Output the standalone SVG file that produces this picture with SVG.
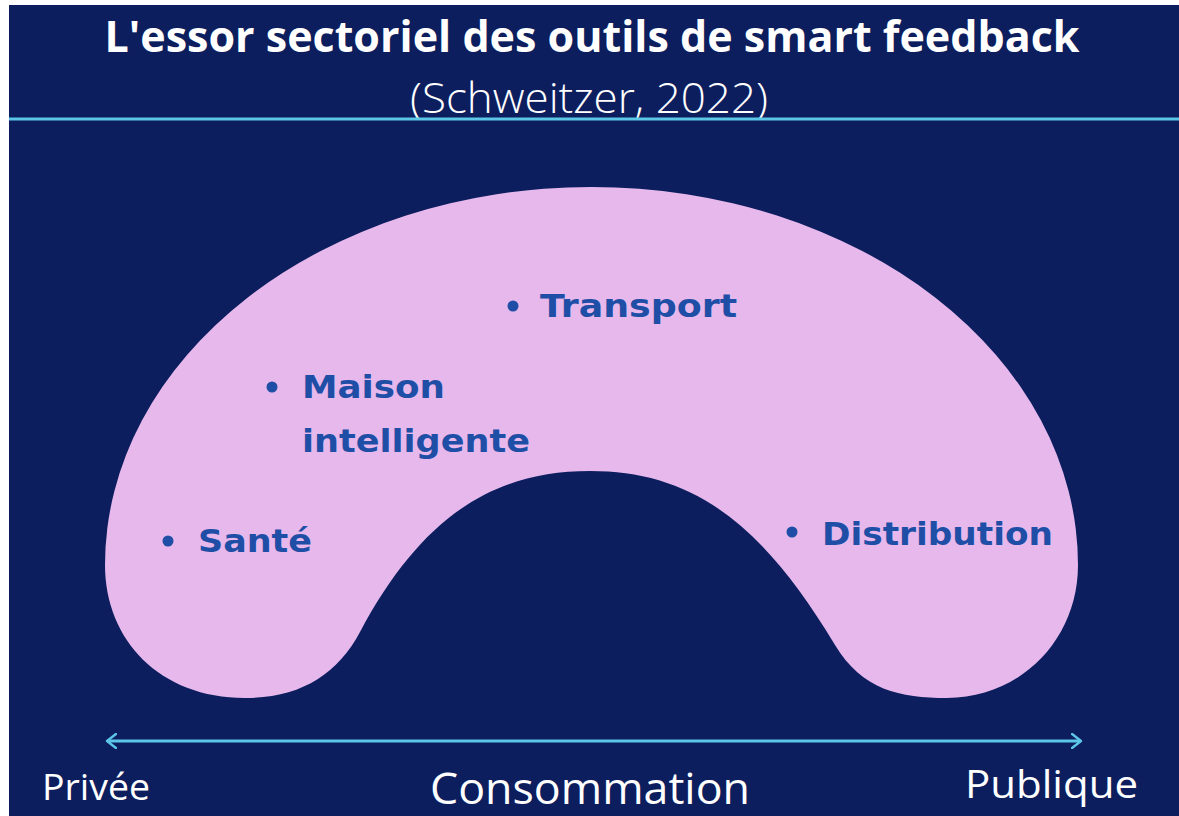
<svg xmlns="http://www.w3.org/2000/svg" width="1179" height="816" viewBox="0 0 1179 816">
<style>
.title{font-family:"Open Sans","Liberation Sans",sans-serif;font-weight:700;fill:#ffffff}
.sub{font-family:"Open Sans","Liberation Sans",sans-serif;font-weight:300;fill:#ffffff}
.axis{font-family:"Open Sans","Liberation Sans",sans-serif;font-weight:400;fill:#ffffff}
.lbl{font-family:"DejaVu Sans","Liberation Sans",sans-serif;font-weight:700;fill:#1e4ea5;font-size:32px}
.dot{fill:#1e4ea5}
</style>
<defs>
<marker id="chev" viewBox="0 0 12 16" refX="10" refY="8" markerWidth="4" markerHeight="5.3" orient="auto-start-reverse" markerUnits="strokeWidth">
<path d="M1 1 L10 8 L1 15" fill="none" stroke="#5cc6e6" stroke-width="2.4" stroke-linecap="round" stroke-linejoin="round"/>
</marker>
</defs>
<rect x="0" y="0" width="1179" height="816" fill="#ffffff"/>
<rect x="9" y="5" width="1170" height="811" fill="#0c1e5e"/>
<text class="title" x="592" y="52" font-size="43" text-anchor="middle" textLength="975" lengthAdjust="spacingAndGlyphs">L'essor sectoriel des outils de smart feedback</text>
<text class="sub" x="589" y="113" font-size="43" text-anchor="middle" textLength="358" lengthAdjust="spacingAndGlyphs">(Schweitzer, 2022)</text>
<line x1="9" y1="119" x2="1179" y2="119" stroke="#5cc6e6" stroke-width="3"/>
<g id="arch">
<path d="M105 565 A486.5 378 0 0 1 1078 565 C1078 640 1020 698 947 698 C900 698 862 690 835 645 C760 520 690 471 590 471 C490 471 420 520 360 632 C337 675 300 698 245 698 C160 698 105 640 105 565 Z" fill="#e6b8ec"/>
</g>
<g id="transport"><circle class="dot" cx="513" cy="306" r="5.5"/><text class="lbl" x="540" y="317" textLength="197" lengthAdjust="spacingAndGlyphs">Transport</text></g>
<g id="maison"><circle class="dot" cx="272" cy="387" r="5.5"/><text class="lbl" x="302" y="398" textLength="143" lengthAdjust="spacingAndGlyphs">Maison</text><text class="lbl" x="302" y="452" textLength="228" lengthAdjust="spacingAndGlyphs">intelligente</text></g>
<g id="sante"><circle class="dot" cx="168" cy="541" r="5.5"/><text class="lbl" x="198" y="552" textLength="114" lengthAdjust="spacingAndGlyphs">Santé</text></g>
<g id="distribution"><circle class="dot" cx="792" cy="532" r="5.5"/><text class="lbl" x="822" y="545" textLength="231" lengthAdjust="spacingAndGlyphs">Distribution</text></g>
<g id="connectors">
<line x1="107" y1="741" x2="1081" y2="741" stroke="#5cc6e6" stroke-width="3" marker-start="url(#chev)" marker-end="url(#chev)"/>
</g>
<text class="axis" x="42" y="800" font-size="36" textLength="108" lengthAdjust="spacingAndGlyphs">Privée</text>
<text class="axis" x="590" y="804" font-size="43" text-anchor="middle" textLength="320" lengthAdjust="spacingAndGlyphs">Consommation</text>
<text class="axis" x="965" y="798" font-size="39" textLength="173" lengthAdjust="spacingAndGlyphs">Publique</text>
</svg>
